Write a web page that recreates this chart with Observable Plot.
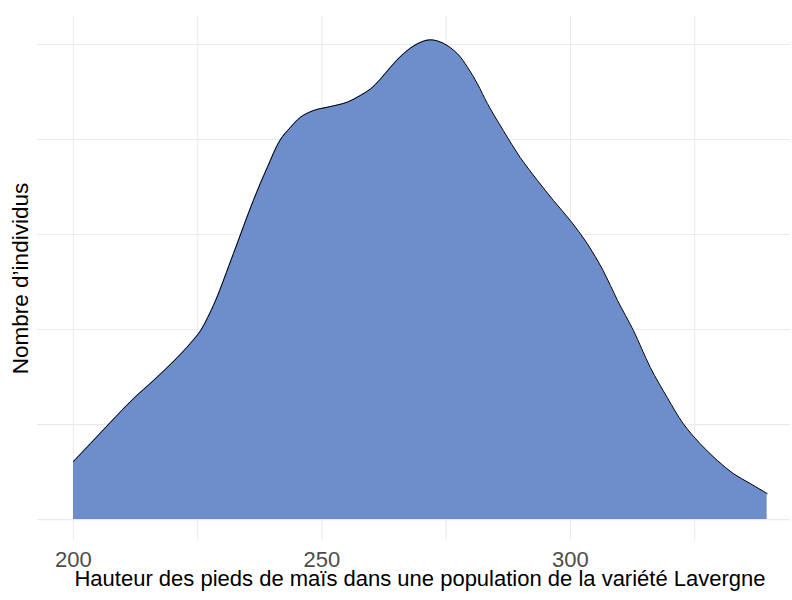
<!DOCTYPE html>
<html>
<head>
<meta charset="utf-8">
<script src="https://cdn.jsdelivr.net/npm/d3@7"></script>
<script src="https://cdn.jsdelivr.net/npm/@observablehq/plot@0.6"></script>
<style>
  html, body { margin: 0; padding: 0; background: #fff; }
  #chart { width: 792px; height: 600px; }
</style>
</head>
<body>
<div id="chart"></div>
<script>
// Hauteur (cm) et densité (unités arbitraires)
const hauteurs = [200, 204.0, 207.4, 212.1, 216.1, 220.9, 223.5, 225.6, 227.0, 228.6, 232.2, 236.2, 239.0, 241.6, 243.7, 245.7, 248.3, 251.7, 255.1, 257.7, 259.8, 261.8, 263.8, 266.4, 269.2, 271.8, 274.4, 277.3, 279.3, 281.3, 283.3, 286.5, 289.9, 293.4, 296.6, 300.0, 303.4, 306.6, 309.5, 312.7, 316.1, 319.5, 322.7, 326.1, 329.6, 332.8, 336.2, 339.6];
const densites = [0.611, 0.832, 1.021, 1.274, 1.463, 1.705, 1.853, 1.989, 2.126, 2.305, 2.8, 3.358, 3.705, 3.995, 4.129, 4.235, 4.305, 4.347, 4.393, 4.463, 4.533, 4.638, 4.761, 4.902, 5.007, 5.049, 5.014, 4.902, 4.761, 4.586, 4.379, 4.095, 3.811, 3.568, 3.358, 3.147, 2.905, 2.621, 2.305, 1.989, 1.6, 1.284, 1.011, 0.8, 0.621, 0.484, 0.379, 0.274];
const xTicks = [200, 250, 300];
const xGrid = [200, 225, 250, 275, 300, 325];
const yGrid = [0, 1, 2, 3, 4, 5];
const xTitle = "Hauteur des pieds de maïs dans une population de la variété Lavergne";
const yTitle = "Nombre d’individus";

const data = hauteurs.map((h, i) => ({h, d: densites[i]}));

const chart = Plot.plot({
  width: 792,
  height: 600,
  marginTop: 16,
  marginBottom: 60,
  marginLeft: 37,
  marginRight: 0,
  style: {fontFamily: "'Liberation Sans', Arial, sans-serif", background: "#fff"},
  x: {domain: [192.76, 344.7]},
  y: {domain: [-0.22, 5.295]},
  marks: [
    Plot.gridX(xGrid, {stroke: "#ebebeb", strokeOpacity: 1, strokeWidth: 1.1}),
    Plot.gridY(yGrid, {stroke: "#ebebeb", strokeOpacity: 1, strokeWidth: 1.1, x1: 192.76, x2: 344.3}),
    Plot.areaY(data, {x: "h", y: "d", fill: "#6d8ecb", curve: "catmull-rom"}),
    Plot.lineY(data, {x: "h", y: "d", stroke: "#000", strokeWidth: 1, curve: "catmull-rom"}),
    Plot.axisX(xTicks, {tickSize: 0, tickPadding: 11, fontSize: 22, fill: "#4d4d4d", label: null}),
    Plot.axisY([], {label: null}),
    Plot.text([xTitle], {frameAnchor: "bottom", lineAnchor: "bottom", textAnchor: "middle", dx: 5, dy: 45, fontSize: 22, fill: "#000", text: d => d}),
    Plot.text([yTitle], {frameAnchor: "left", textAnchor: "middle", rotate: -90, dx: -17, fontSize: 22.5, fill: "#000", text: d => d})
  ]
});
document.getElementById("chart").appendChild(chart);
</script>
</body>
</html>
